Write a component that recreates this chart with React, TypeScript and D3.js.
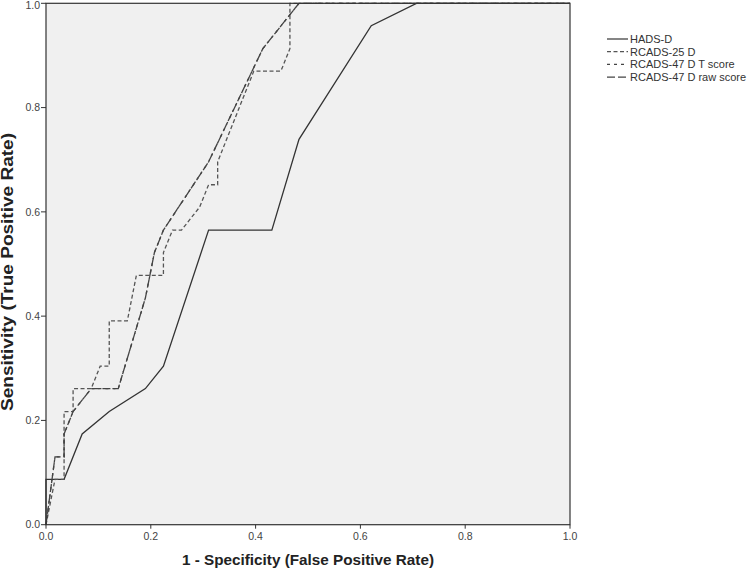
import React from "react";
import * as d3 from "d3";

// ---- data ----
const ticks = [0, 0.2, 0.4, 0.6, 0.8, 1.0];

const hadsFpr = [0, 0, 0.0345, 0.069, 0.1207, 0.1897, 0.2241, 0.3103, 0.431, 0.4828, 0.6207, 0.7069, 1];
const hadsTpr = [0, 0.087, 0.087, 0.174, 0.217, 0.261, 0.304, 0.565, 0.565, 0.739, 0.957, 1, 1];

const rcads25Fpr = [0, 0.0172, 0.0345, 0.0345, 0.0517, 0.0517, 0.0862, 0.1034, 0.1207, 0.1207, 0.1552, 0.1724, 0.2241, 0.2241, 0.2414, 0.2586, 0.2931, 0.3103, 0.3276, 0.3276, 0.3966, 0.4483, 0.4655, 0.4655, 1];
const rcads25Tpr = [0, 0.087, 0.087, 0.217, 0.217, 0.261, 0.261, 0.304, 0.304, 0.391, 0.391, 0.478, 0.478, 0.522, 0.565, 0.565, 0.609, 0.652, 0.652, 0.696, 0.87, 0.87, 0.913, 1, 1];

const rcads47TFpr = [0, 0.0172, 0.0345, 0.0345, 0.0517, 0.0862, 0.1379, 0.1897, 0.2069, 0.2241, 0.3103, 0.4138, 0.4828, 1];
const rcads47TTpr = [0, 0.13, 0.13, 0.174, 0.217, 0.261, 0.261, 0.435, 0.522, 0.565, 0.696, 0.913, 1, 1];

const rcads47RawFpr = [0, 0.0172, 0.0345, 0.0345, 0.0517, 0.0862, 0.1379, 0.1897, 0.2069, 0.2241, 0.3103, 0.4138, 0.4828, 1];
const rcads47RawTpr = [0, 0.13, 0.13, 0.174, 0.217, 0.261, 0.261, 0.435, 0.522, 0.565, 0.696, 0.913, 1, 1];

const seriesNames = ["HADS-D", "RCADS-25 D", "RCADS-47 D T score", "RCADS-47 D raw score"];

const W = 749;
const H = 574;
const left = 46;
const right = 570;
const top = 3.3;
const bottom = 524.7;

const styles = [
  { dash: "none", color: "#333", width: 1.3 },
  { dash: "4,2.5", color: "#555", width: 1.3 },
  { dash: "3,4", color: "#444", width: 1.3 },
  { dash: "8,3", color: "#444", width: 1.3 },
];

export default function App() {
  const x = d3.scaleLinear().domain([0, 1]).range([left, right]);
  const y = d3.scaleLinear().domain([0, 1]).range([bottom, top]);
  const line = d3
    .line<[number, number]>()
    .x((d) => x(d[0]))
    .y((d) => y(d[1]));

  const series = [
    [hadsFpr, hadsTpr],
    [rcads25Fpr, rcads25Tpr],
    [rcads47TFpr, rcads47TTpr],
    [rcads47RawFpr, rcads47RawTpr],
  ].map(([fx, ty]) => fx.map((v, i) => [v, ty[i]] as [number, number]));

  const fmt = d3.format(".1f");
  const font = "'Liberation Sans', Arial, sans-serif";

  return (
    <svg
      width={W}
      height={H}
      style={{ position: "absolute", left: 0, top: 0, background: "#fff" }}
      fontFamily={font}
    >
      <rect x={left} y={top} width={right - left} height={bottom - top} fill="#f0f0f0" />
      {series.map((pts, i) => (
        <path
          key={i}
          d={line(pts) || ""}
          fill="none"
          stroke={styles[i].color}
          strokeWidth={styles[i].width}
          strokeDasharray={styles[i].dash}
        />
      ))}
      <rect x={left} y={top} width={right - left} height={bottom - top} fill="none" stroke="#333" strokeWidth={1.2} />
      {ticks.map((t) => (
        <g key={"x" + t}>
          <line x1={x(t)} x2={x(t)} y1={bottom} y2={bottom + 4} stroke="#333" />
          <text x={x(t)} y={bottom + 15} textAnchor="middle" fontSize={10.5} fill="#444">
            {fmt(t)}
          </text>
        </g>
      ))}
      {ticks.map((t) => (
        <g key={"y" + t}>
          <line x1={left - 5} x2={left} y1={y(t)} y2={y(t)} stroke="#333" />
          <text x={left - 6} y={Math.max(y(t) + 3.7, 8.5)} textAnchor="end" fontSize={10.5} fill="#444">
            {fmt(t)}
          </text>
        </g>
      ))}
      <text
        x={(left + right) / 2}
        y={565}
        textAnchor="middle"
        fontSize={15}
        fontWeight="bold"
        fill="#222"
        textLength={252}
        lengthAdjust="spacingAndGlyphs"
      >
        1 - Specificity (False Positive Rate)
      </text>
      <text
        transform={`translate(13, 272) rotate(-90)`}
        textAnchor="middle"
        fontSize={16}
        fontWeight="bold"
        fill="#222"
        textLength={278}
        lengthAdjust="spacingAndGlyphs"
      >
        Sensitivity (True Positive Rate)
      </text>
      {seriesNames.map((name, i) => (
        <g key={name} transform={`translate(607, ${39 + i * 12.7})`}>
          <line x1={0} x2={21} y1={0} y2={0} stroke={styles[i].color} strokeWidth={1.2} strokeDasharray={styles[i].dash} />
          <text x={23} y={4} fontSize={11} fill="#333">
            {name}
          </text>
        </g>
      ))}
    </svg>
  );
}
